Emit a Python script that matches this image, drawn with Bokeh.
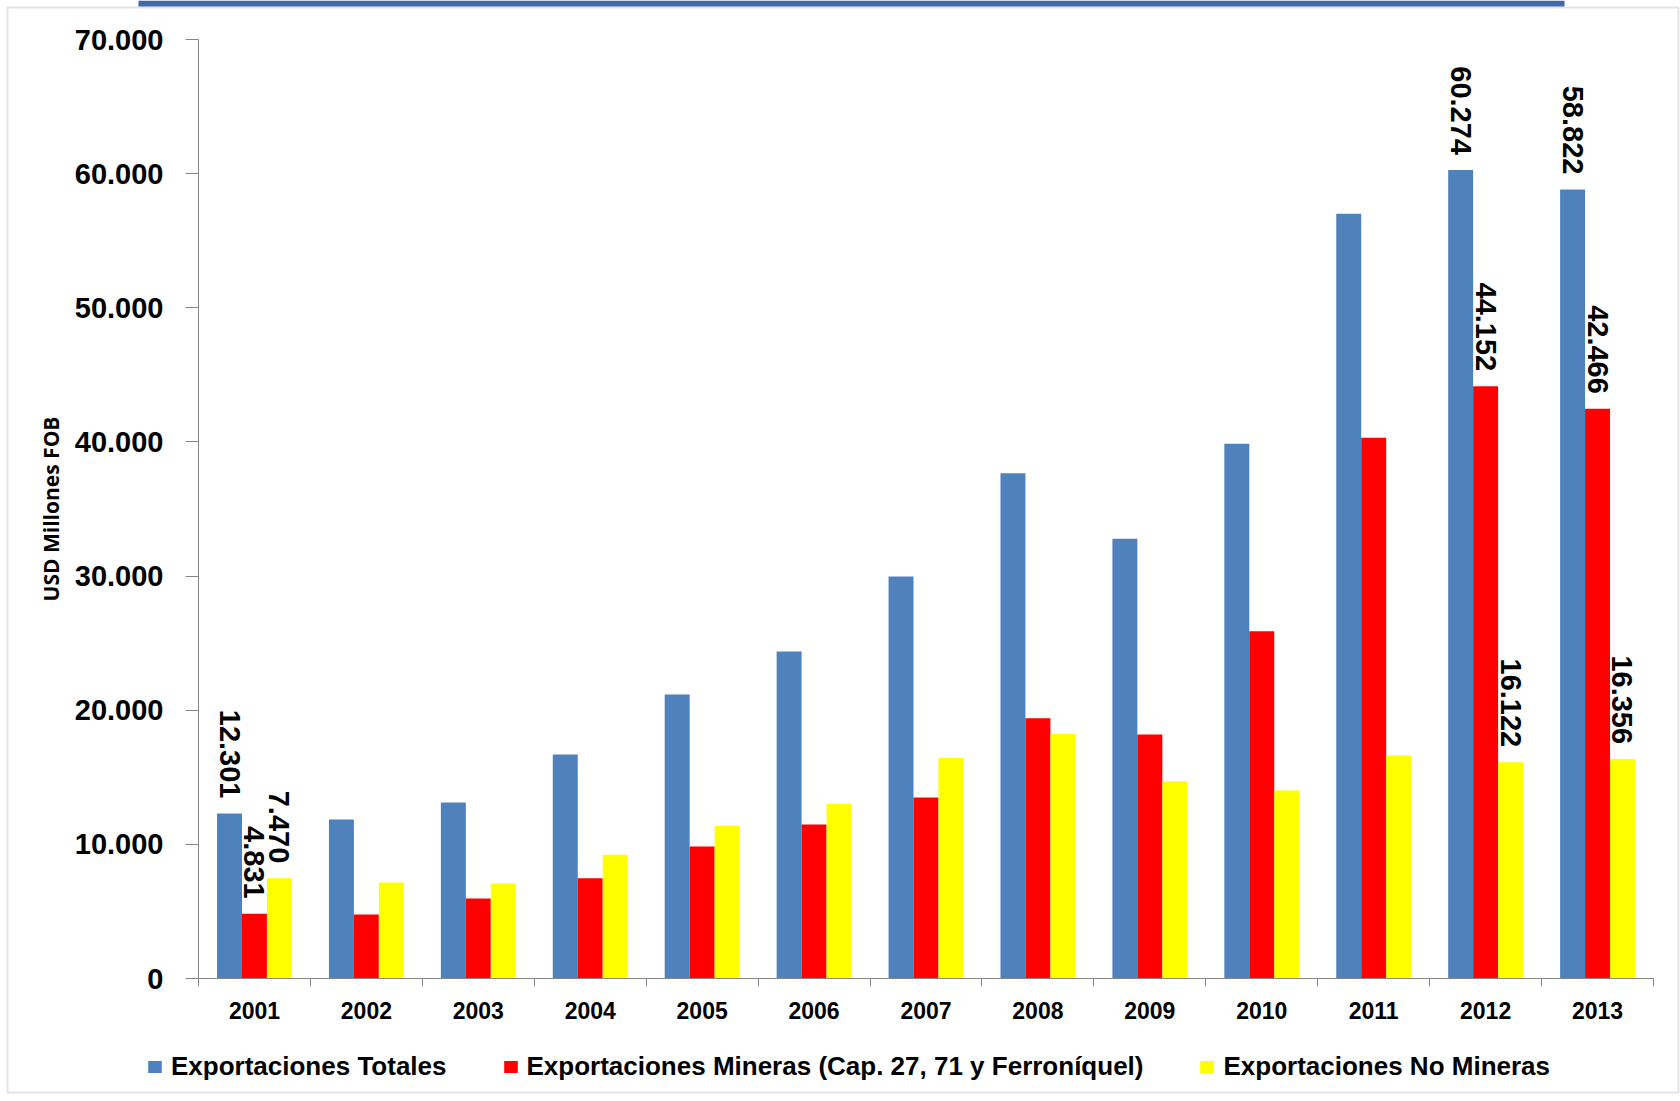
import numpy as np
from bokeh.plotting import figure
from bokeh.models import ColumnDataSource, FixedTicker, Legend, LegendItem, Range1d, BoxAnnotation
from bokeh.transform import dodge
from bokeh.embed import file_html
from bokeh.resources import INLINE
from bokeh.core.properties import value

# ---- data (USD millones FOB) ----
years = ["2001", "2002", "2003", "2004", "2005", "2006", "2007",
         "2008", "2009", "2010", "2011", "2012", "2013"]
totales = [12301, 11853, 13121, 16700, 21172, 24378, 29970,
           37670, 32780, 39862, 57010, 60274, 58822]
mineras = [4831, 4771, 5964, 7477, 9841, 11481, 13494,
           19405, 18190, 25893, 40310, 44152, 42466]
no_mineras = [7470, 7157, 7082, 9222, 11383, 13024, 16453,
              18242, 14710, 14015, 16625, 16122, 16356]
labeled_years = ["2001", "2012", "2013"]
series_names = ["Exportaciones Totales",
                "Exportaciones Mineras (Cap. 27, 71 y Ferroníquel)",
                "Exportaciones No Mineras"]
y_ticks = [0, 10000, 20000, 30000, 40000, 50000, 60000, 70000]
y_tick_labels = ["0", "10.000", "20.000", "30.000", "40.000", "50.000", "60.000", "70.000"]
y_title = "USD Millones FOB"

FONT = "Liberation Sans"
colors = ["#4F81BD", "#FF0000", "#FFFF00"]
offsets = [-0.223, 0.0, 0.223]
bar_w = 0.223

def fmt(v):
    return f"{v:,}".replace(",", ".")

centers = [i + 0.5 for i in range(len(years))]

# ---- layout geometry (canvas pixels) ----
W, H = 1680, 1100
AX_X, AX_R = 198, 1653          # y axis position / end of x axis
Y_TOP, Y_ZERO = 39, 978         # pixel rows of 70.000 and 0
YMAX = 70000
ppu_x = (AX_R - AX_X) / len(years)
ppu_y = (Y_ZERO - Y_TOP) / YMAX
x_start = -AX_X / ppu_x
x_end = len(years) + (W - AX_R) / ppu_x
y_end = YMAX + Y_TOP / ppu_y
y_start = -(H - Y_ZERO) / ppu_y

def px2x(px):
    return x_start + px / ppu_x

def py2y(py):
    return y_end - py / ppu_y

p = figure(width=W, height=H,
           x_range=Range1d(x_start, x_end), y_range=Range1d(y_start, y_end),
           output_backend="svg", toolbar_location=None,
           min_border=0, min_border_left=0, min_border_right=0,
           min_border_top=0, min_border_bottom=0)
p.outline_line_color = None
p.xgrid.visible = False
p.ygrid.visible = False
p.background_fill_color = "white"
p.border_fill_color = "white"

# decorative frame and header band
p.add_layout(BoxAnnotation(left=px2x(7), right=px2x(1678), top=py2y(7), bottom=py2y(1092),
                           fill_alpha=0, line_color="#a6a6a6", line_width=2))
p.add_layout(BoxAnnotation(left=px2x(138), right=px2x(1564), top=py2y(0), bottom=py2y(6),
                           fill_color="#3F69AA", fill_alpha=1, line_color=None))

renderers = []
for vals, col, off in zip([totales, mineras, no_mineras], colors, offsets):
    src = ColumnDataSource(dict(
        x=centers, top=vals,
        label=[fmt(v) if y in labeled_years else "" for v, y in zip(vals, years)],
    ))
    r = p.vbar(x=dodge("x", off, range=p.x_range), top="top", width=bar_w, bottom=0,
               source=src, fill_color=col, line_color=None)
    renderers.append(r)
    p.text(x=dodge("x", off, range=p.x_range), y="top", text="label", source=src,
           angle=-np.pi / 2, text_align="right", text_baseline="middle",
           y_offset=-15, text_font=value(FONT), text_font_size="29px",
           text_font_style="bold", text_color="black")

# y axis (drawn at x = 0)
ya = p.yaxis[0]
ya.fixed_location = 0
ya.bounds = (0, YMAX)
ya.ticker = FixedTicker(ticks=y_ticks)
ya.major_label_overrides = {t: l for t, l in zip(y_ticks, y_tick_labels)}
ya.major_label_text_font = FONT
ya.major_label_text_font_size = "29px"
ya.major_label_text_font_style = "bold"
ya.major_label_text_color = "black"
ya.major_tick_out = 13
ya.major_tick_in = 0
ya.major_label_standoff = 22
ya.axis_line_color = "#868686"
ya.major_tick_line_color = "#868686"
ya.axis_label = y_title
ya.axis_label_text_font = "Open Sans"
ya.axis_label_text_font_style = "bold"
ya.axis_label_text_font_size = "21px"
ya.axis_label_text_color = "black"
ya.axis_label_standoff = 7

# x axis (drawn at y = 0)
xa = p.xaxis[0]
xa.fixed_location = 0
xa.bounds = (0, len(years))
xa.ticker = FixedTicker(ticks=centers, minor_ticks=list(range(len(years) + 1)))
xa.major_label_overrides = {c: y for c, y in zip(centers, years)}
xa.major_tick_out = 0
xa.major_tick_in = 0
xa.minor_tick_out = 8
xa.minor_tick_in = 0
xa.minor_tick_line_color = "#868686"
xa.axis_line_color = "#868686"
xa.major_label_text_font = FONT
xa.major_label_text_font_size = "23px"
xa.major_label_text_font_style = "bold"
xa.major_label_text_color = "black"
xa.major_label_standoff = 15

legend = Legend(
    items=[LegendItem(label=n, renderers=[r]) for n, r in zip(series_names, renderers)],
    orientation="horizontal", location=(146, 18),
    glyph_width=17, glyph_height=15, label_standoff=8, spacing=55,
    padding=0, margin=0, border_line_color=None, background_fill_alpha=0,
    label_text_font=FONT, label_text_font_size="26px", label_text_font_style="bold",
    label_text_color="black")
p.add_layout(legend)

open("out.html", "w").write(file_html(p, INLINE))
